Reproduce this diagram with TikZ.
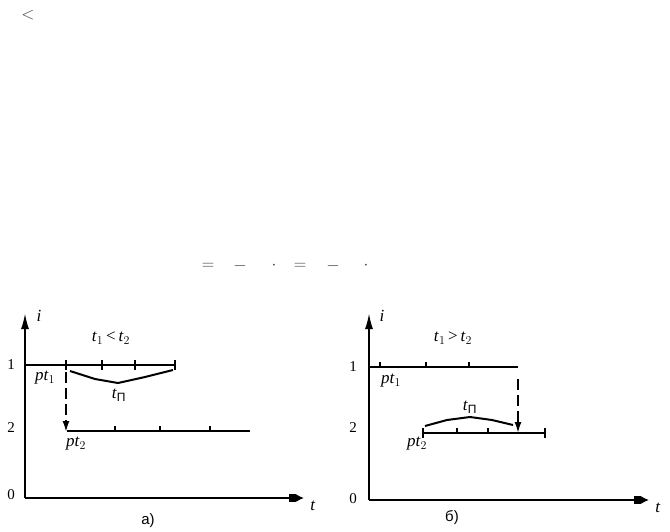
\documentclass[tikz,border=0pt]{standalone}
\usepackage{fontspec}
\setmainfont{Liberation Serif}
\newfontfamily\cyr{Liberation Sans}
\usetikzlibrary{positioning}
\usetikzlibrary{arrows.meta}
\tikzset{
  axis/.style   = {line width=2pt, -{Rectangle[length=7pt,width=8pt]Latex[length=8pt,width=8pt]}},
  yaxis/.style  = {line width=2pt, -{Latex[length=16pt,width=8pt]}},
  level/.style  = {line width=1.8pt},
  tick/.style   = {line width=1.5pt},
  jump/.style   = {line width=1.8pt, dash pattern=on 11pt off 5pt, -{Latex[length=11pt,width=7pt]}},
  trans/.style  = {line width=2pt, line join=round},
  lbl/.style    = {inner sep=1pt, font=\fontsize{17}{19}\selectfont},
  num/.style    = {inner sep=1pt, font=\fontsize{15}{17}\selectfont},
  junk/.style   = {text=black!75, inner sep=0pt, font=\fontsize{17}{19}\selectfont}
}
\newcommand{\tp}{\textit{t}$_{\hbox{\cyr\fontsize{12}{14}\selectfont П}}$}

\begin{document}
\begin{tikzpicture}[x=1pt, y=-1pt]
  \useasboundingbox (0,0) rectangle (670,531);
  \node [junk] (lt) at (28,15) {$<$};
  \node [junk] (e1) at (208,266) {$=$};
  \node [junk] (m1) at (240,266) {$-$};
  \node [junk] (d1) at (274,266) {$\cdot$};
  \node [junk] (e2) at (300,266) {$=$};
  \node [junk] (m2) at (333,266) {$-$};
  \node [junk] (d2) at (366,266) {$\cdot$};
  % a)
  \begin{scope}
  \coordinate (ao) at (25,498);
  \coordinate (ai) at (25,313);
  \coordinate (at) at (304,498);
  \path[yaxis] (ao) edge (ai);
  \path[axis] (ao) edge (at);
  \node [lbl] (ailbl) at (39,316) {\textit{i}};
  \node [lbl] (atlbl) at (313,506) {\textit{t}};
  \node [num] (a0) at (11,495) {0};
  \node [num] (a1) at (11,365) {1};
  \node [num] (a2) at (11,428) {2};
  \coordinate (a1s) at (25,365);
  \coordinate (a1e) at (175,365);
  \coordinate (a2s) at (67,431);
  \coordinate (a2e) at (250,431);
  \path[level] (a1s) edge (a1e) (a2s) edge (a2e);
  \foreach \x in {66,102,135,175} \draw[tick] (\x,360) -- (\x,370);
  \foreach \x in {115,160,210} \draw[tick] (\x,426) -- (\x,431);
  \coordinate (ajs) at (66,372);
  \coordinate (aje) at (66,432);
  \path[jump] (ajs) edge (aje);
  \node [lbl] (apt1) at (45,378) {\textit{pt}$_1$};
  \node [lbl] (apt2) at (76,444) {\textit{pt}$_2$};
  \draw[trans] (70,371) -- (95,379) -- (118,383) -- (145,377) -- (173,370);
  \node [lbl] (atp) at (119,395) {\tp};
  \node [lbl] (arel) at (111,338) {\textit{t}$_1$\,<\,\textit{t}$_2$};
  \node [num] (acap) at (148,521) {\cyr а)};
  \end{scope}
  % b)
  \begin{scope}
  \coordinate (bo) at (369,500);
  \coordinate (bi) at (369,313);
  \coordinate (bt) at (649,500);
  \path[yaxis] (bo) edge (bi);
  \path[axis] (bo) edge (bt);
  \node [lbl] (bilbl) at (382,316) {\textit{i}};
  \node [lbl] (btlbl) at (658,508) {\textit{t}};
  \node [num] (b0) at (353,499) {0};
  \node [num] (b1) at (353,367) {1};
  \node [num] (b2) at (353,428) {2};
  \coordinate (b1s) at (369,367);
  \coordinate (b1e) at (518,367);
  \coordinate (b2s) at (423,433);
  \coordinate (b2e) at (545,433);
  \path[level] (b1s) edge (b1e) (b2s) edge (b2e);
  \foreach \x in {380,426,469} \draw[tick] (\x,362) -- (\x,367);
  \foreach \x in {423,545} \draw[tick] (\x,428) -- (\x,438);
  \foreach \x in {457,488} \draw[tick] (\x,428) -- (\x,433);
  \coordinate (bjs) at (518,379);
  \coordinate (bje) at (518,433);
  \path[jump] (bjs) edge (bje);
  \node [lbl] (bpt1) at (391,381) {\textit{pt}$_1$};
  \node [lbl] (bpt2) at (417,444) {\textit{pt}$_2$};
  \draw[trans] (425,426) -- (447,420) -- (470,417) -- (492,420) -- (513,425);
  \node [lbl] (btp) at (470,407) {\tp};
  \node [lbl] (brel) at (453,338) {\textit{t}$_1$\,>\,\textit{t}$_2$};
  \node [num] (bcap) at (452,518) {\cyr б)};
  \end{scope}
\end{tikzpicture}
\end{document}
